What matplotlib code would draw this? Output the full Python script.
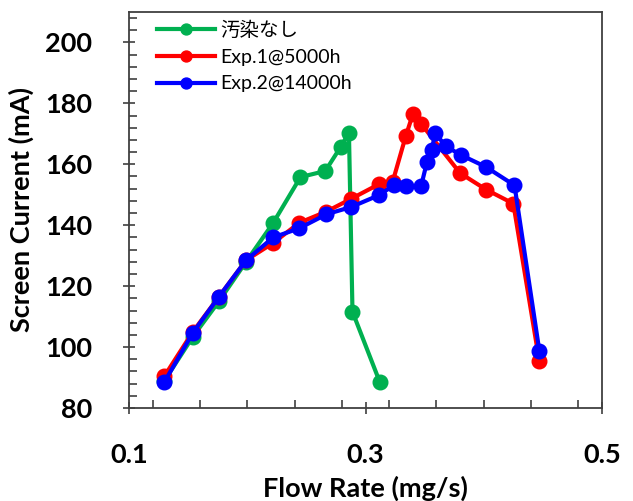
import numpy as np
import matplotlib
matplotlib.use('Agg')
import matplotlib.pyplot as plt
from matplotlib.ticker import MultipleLocator

# Data: flow rate (mg/s) vs screen current (mA)
x_clean = [0.130, 0.154, 0.176, 0.199, 0.222, 0.245, 0.266, 0.279, 0.286, 0.289, 0.312]
y_clean = [89, 103.4, 115, 128, 140.8, 155.8, 157.8, 165.7, 170.3, 111.6, 88.6]

x_exp1 = [0.130, 0.154, 0.176, 0.199, 0.222, 0.244, 0.267, 0.288, 0.311, 0.323, 0.334,
          0.340, 0.347, 0.380, 0.402, 0.425, 0.447]
y_exp1 = [90.5, 105, 116.5, 128.5, 134.2, 140.8, 144.5, 148.7, 153.4, 154.3, 169.2,
          176.4, 173.3, 157.1, 151.7, 147.1, 95.4]

x_exp2 = [0.130, 0.154, 0.176, 0.199, 0.222, 0.244, 0.267, 0.288, 0.311, 0.324, 0.334,
          0.347, 0.352, 0.356, 0.359, 0.368, 0.381, 0.402, 0.426, 0.447]
y_exp2 = [88.6, 104.7, 116.5, 128.5, 136.0, 139.0, 143.6, 146.0, 149.8, 153.1, 152.8,
          152.8, 160.8, 164.8, 170.2, 165.9, 163.0, 159.1, 153.1, 98.8]

labels = ['汚染なし', 'Exp.1@5000h', 'Exp.2@14000h']
colors = ['#00B050', '#FF0000', '#0000FF']

plt.rcParams['font.family'] = ['Lato', 'Noto Sans CJK JP', 'DejaVu Sans']

fig = plt.figure(figsize=(6.33, 5.01), dpi=100)
ax = fig.add_axes([129 / 633, 1 - 408 / 501, 473 / 633, 396 / 501])

for xs, ys, lab, col in zip([x_clean, x_exp1, x_exp2], [y_clean, y_exp1, y_exp2], labels, colors):
    ax.plot(xs, ys, '-o', color=col, lw=3.0, ms=10.5, label=lab)

ax.set_xlim(0.1, 0.5)
ax.set_ylim(80, 210)
ax.xaxis.set_minor_locator(MultipleLocator(0.04))
ax.yaxis.set_minor_locator(MultipleLocator(4))
ax.set_xticks([0.1, 0.3, 0.5])
ax.set_xticklabels(['0.1', '0.3', '0.5'])
ax.set_yticks([80, 100, 120, 140, 160, 180, 200])

ax.tick_params(which='major', direction='inout', length=9, width=1.2, color='#404040',
               labelsize=19.5, pad=22)
ax.tick_params(axis='x', which='major', pad=21)
ax.tick_params(which='minor', direction='in', length=5.5, width=1.2, color='#404040')
ax.tick_params(axis='x', which='both', top=False)
ax.tick_params(axis='y', which='both', right=False)
for lbl in ax.get_xticklabels() + ax.get_yticklabels():
    lbl.set_fontweight('bold')

for sp in ax.spines.values():
    sp.set_color('#404040')
    sp.set_linewidth(1.3)

ax.set_xlabel('Flow Rate (mg/s)', fontsize=19.5, fontweight='bold')
ax.set_ylabel('Screen Current (mA)', fontsize=19.5, fontweight='bold')
ax.xaxis.set_label_coords(0.5, -0.17)
ax.yaxis.set_label_coords(-0.2, 0.5)

ax.legend(loc='upper left', bbox_to_anchor=(0.059, 0.978), frameon=False, fontsize=14,
          handlelength=3.0, handletextpad=0.25, labelspacing=0.5, borderpad=0,
          borderaxespad=0, markerscale=0.75)

fig.savefig('out.png', dpi=100)
